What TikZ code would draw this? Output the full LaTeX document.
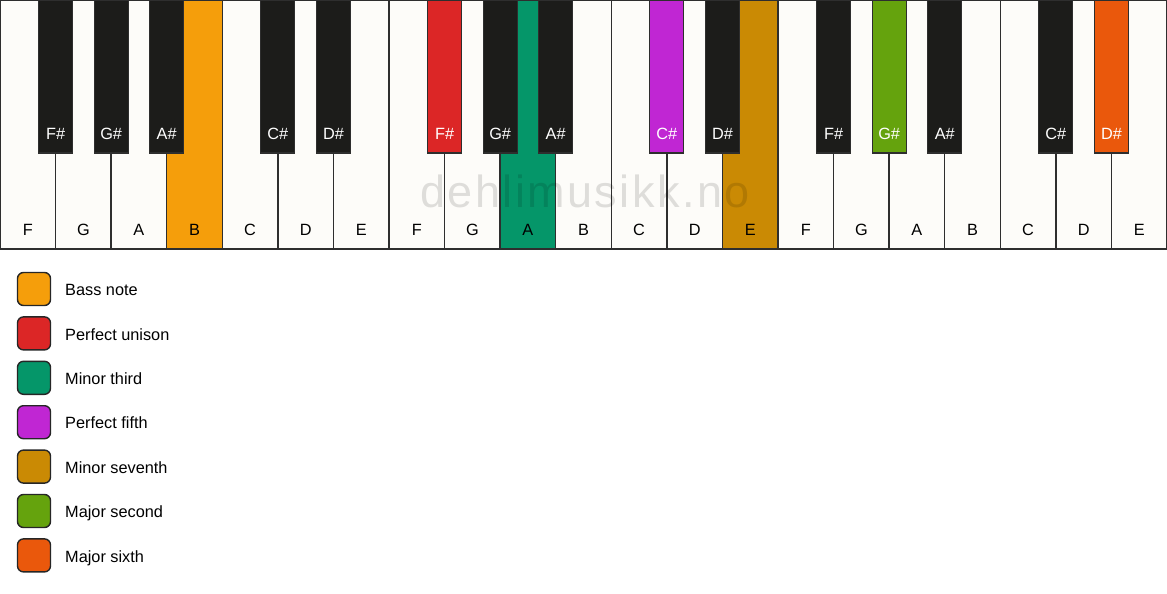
\documentclass[tikz,border=0pt]{standalone}
\usepackage{fontspec}
\setmainfont{Liberation Sans}
\newfontfamily\wmfont[LetterSpace=5.5]{Liberation Sans}
\definecolor{ivory}{HTML}{FDFCF9}
\definecolor{keyline}{HTML}{2E2E2E}
\definecolor{keyblack}{HTML}{1C1C1A}
\definecolor{cbass}{HTML}{F59E0B}
\definecolor{cunison}{HTML}{DC2626}
\definecolor{cthird}{HTML}{059669}
\definecolor{cfifth}{HTML}{C026D3}
\definecolor{cseventh}{HTML}{CA8A04}
\definecolor{csecond}{HTML}{65A30D}
\definecolor{csixth}{HTML}{EA580C}
\begin{document}
\begin{tikzpicture}[x=1pt,y=-1pt,
  whitekey/.style={draw=keyline, line width=1.5pt, minimum width=55.571pt, minimum height=249pt, inner sep=0pt, outer sep=0pt, anchor=north west},
  blackkey/.style={draw=keyline, line width=1.2pt, minimum width=34pt, minimum height=153pt, inner sep=0pt, outer sep=0pt, anchor=north},
  wlab/.style={font=\fontsize{16.3}{19}\selectfont, text=black, anchor=base, inner sep=0pt},
  blab/.style={font=\fontsize{16.3}{19}\selectfont, text=white, anchor=base, inner sep=0pt},
  legbox/.style={draw=black!85, line width=1.4pt, rounded corners=6pt, minimum width=33pt, minimum height=33pt, inner sep=0pt},
  legtext/.style={font=\fontsize{16.3}{19}\selectfont, anchor=base west, inner sep=0pt},
  wmark/.style={font=\wmfont\fontsize{45}{50}\selectfont, text=black, text opacity=0.12, anchor=base, inner sep=0pt}
]
\fill[white] (0,0) rectangle (1167,594);
\useasboundingbox (0,0) rectangle (1167,594);
% white keys
\foreach \i/\n/\c in {0/F/ivory,1/G/ivory,2/A/ivory,3/B/cbass,4/C/ivory,5/D/ivory,6/E/ivory,
  7/F/ivory,8/G/ivory,9/A/cthird,10/B/ivory,11/C/ivory,12/D/ivory,13/E/cseventh,
  14/F/ivory,15/G/ivory,16/A/ivory,17/B/ivory,18/C/ivory,19/D/ivory,20/E/ivory}{
  \node[whitekey, fill=\c] (w\i) at (\i*55.571,0) {};
  \node[wlab] (wl\i) at ([yshift=14pt]w\i.south) {\n};
}
% watermark
\node[wmark] (wm) at (585,207.7) {dehlimusikk.no};
% black keys
\foreach \b/\n/\c in {1/F\#/keyblack,2/G\#/keyblack,3/A\#/keyblack,5/C\#/keyblack,6/D\#/keyblack,
  8/F\#/cunison,9/G\#/keyblack,10/A\#/keyblack,12/C\#/cfifth,13/D\#/keyblack,
  15/F\#/keyblack,16/G\#/csecond,17/A\#/keyblack,19/C\#/keyblack,20/D\#/csixth}{
  \node[blackkey, fill=\c] (b\b) at (\b*55.571,0) {};
  \node[blab] (bl\b) at ([yshift=14pt]b\b.south) {\n};
}
% legend
\foreach \k/\c/\t in {0/cbass/Bass note,1/cunison/Perfect unison,2/cthird/Minor third,
  3/cfifth/Perfect fifth,4/cseventh/Minor seventh,5/csecond/Major second,6/csixth/Major sixth}{
  \node[legbox, fill=\c] (lb\k) at (34,289+\k*44.4) {};
  \node[legtext] (lt\k) at (65,295.7+\k*44.4) {\t};
}
\end{tikzpicture}
\end{document}
